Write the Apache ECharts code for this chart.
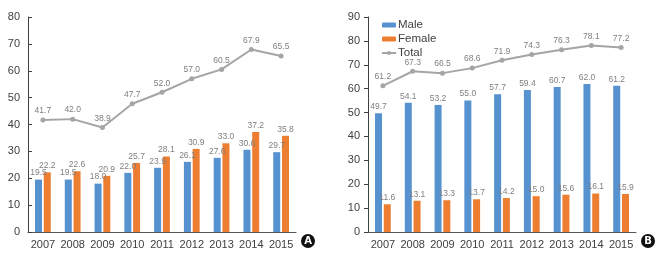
<!DOCTYPE html>
<html>
<head>
<meta charset="utf-8">
<script src="https://cdn.jsdelivr.net/npm/echarts@6/dist/echarts.min.js"></script>
<style>
  html, body { margin: 0; padding: 0; background: #fff; }
  #chart { width: 664px; height: 258px; }
</style>
</head>
<body>
<div id="chart"></div>
<script>
const years = ['2007', '2008', '2009', '2010', '2011', '2012', '2013', '2014', '2015']

// panel A
const maleA = [19.5, 19.5, 18.0, 22.0, 23.9, 26.1, 27.6, 30.6, 29.7]
const femaleA = [22.2, 22.6, 20.9, 25.7, 28.1, 30.9, 33.0, 37.2, 35.8]
const totalA = [41.7, 42.0, 38.9, 47.7, 52.0, 57.0, 60.5, 67.9, 65.5]

// panel B
const maleB = [49.7, 54.1, 53.2, 55.0, 57.7, 59.4, 60.7, 62.0, 61.2]
const femaleB = [11.6, 13.1, 13.3, 13.7, 14.2, 15.0, 15.6, 16.1, 15.9]
const totalB = [61.2, 67.3, 66.5, 68.6, 71.9, 74.3, 76.3, 78.1, 77.2]

const BLUE = '#5592cf'
const ORANGE = '#ed7d31'
const GRAY = '#a5a5a5'
const tickFont = '"Liberation Sans", Arial, sans-serif'

const valLabel = {
    show: true,
    position: 'top',
    distance: 2,
    fontSize: 8.5,
    color: '#7f7f7f',
    fontFamily: tickFont,
    formatter: p => p.value.toFixed(1)
}

function xAxis(grid) {
    return {
        type: 'category', gridIndex: grid, data: years,
        axisLine: { lineStyle: { color: '#595959', width: 1 } },
        axisTick: { show: false },
        axisLabel: { interval: 0, color: '#404040', fontSize: 11, fontFamily: tickFont, margin: 7 }
    }
}

function yAxis(grid, max, inside) {
    return {
        type: 'value', gridIndex: grid, min: 0, max: max, interval: 10,
        splitLine: { show: false },
        axisLine: { show: true, lineStyle: { color: '#404040', width: 1 } },
        axisTick: { show: true, inside: inside, length: 4, lineStyle: { color: '#404040' } },
        axisLabel: { color: '#404040', fontSize: 11, fontFamily: tickFont, margin: 8 }
    }
}

function bars(name, data, color, xi) {
    return {
        name: name, type: 'bar', xAxisIndex: xi, yAxisIndex: xi, data: data,
        barWidth: 7, barGap: '25%',
        itemStyle: { color: color },
        label: valLabel
    }
}

function line(name, data, xi) {
    return {
        name: name, type: 'line', xAxisIndex: xi, yAxisIndex: xi, data: data,
        symbol: 'circle', symbolSize: 5,
        lineStyle: { color: GRAY, width: 2 },
        itemStyle: { color: GRAY },
        label: Object.assign({}, valLabel, { distance: 2 })
    }
}

function badge(letter, x, y) {
    return {
        type: 'group', left: x - 7, top: y - 7,
        children: [
            { type: 'circle', shape: { cx: 7, cy: 7, r: 7 }, style: { fill: '#111' } },
            { type: 'text', x: 7, y: 7, style: { text: letter, fill: '#fff', font: 'bold 10px "DejaVu Sans", sans-serif', textAlign: 'center', textVerticalAlign: 'middle' } }
        ]
    }
}

const chart = echarts.init(document.getElementById('chart'))
chart.setOption({
    animation: false,
    textStyle: { fontFamily: tickFont },
    grid: [
        { left: 28, width: 268, top: 17, height: 215 },
        { left: 368, width: 268, top: 17, height: 215 }
    ],
    legend: {
        data: ['Male', 'Female', 'Total'],
        orient: 'vertical',
        left: 381, top: 19,
        padding: 0,
        itemWidth: 14, itemHeight: 5, itemGap: 2,
        textStyle: { color: '#404040', fontSize: 11.5, lineHeight: 12, fontFamily: tickFont, padding: [0, 0, 0, -3] }
    },
    xAxis: [xAxis(0), xAxis(1)],
    yAxis: [yAxis(0, 80, true), yAxis(1, 90, false)],
    series: [
        bars('Male', maleA, BLUE, 0),
        bars('Female', femaleA, ORANGE, 0),
        line('Total', totalA, 0),
        bars('Male', maleB, BLUE, 1),
        bars('Female', femaleB, ORANGE, 1),
        line('Total', totalB, 1)
    ],
    graphic: [badge('A', 308, 241), badge('B', 648, 241)]
})
</script>
</body>
</html>
